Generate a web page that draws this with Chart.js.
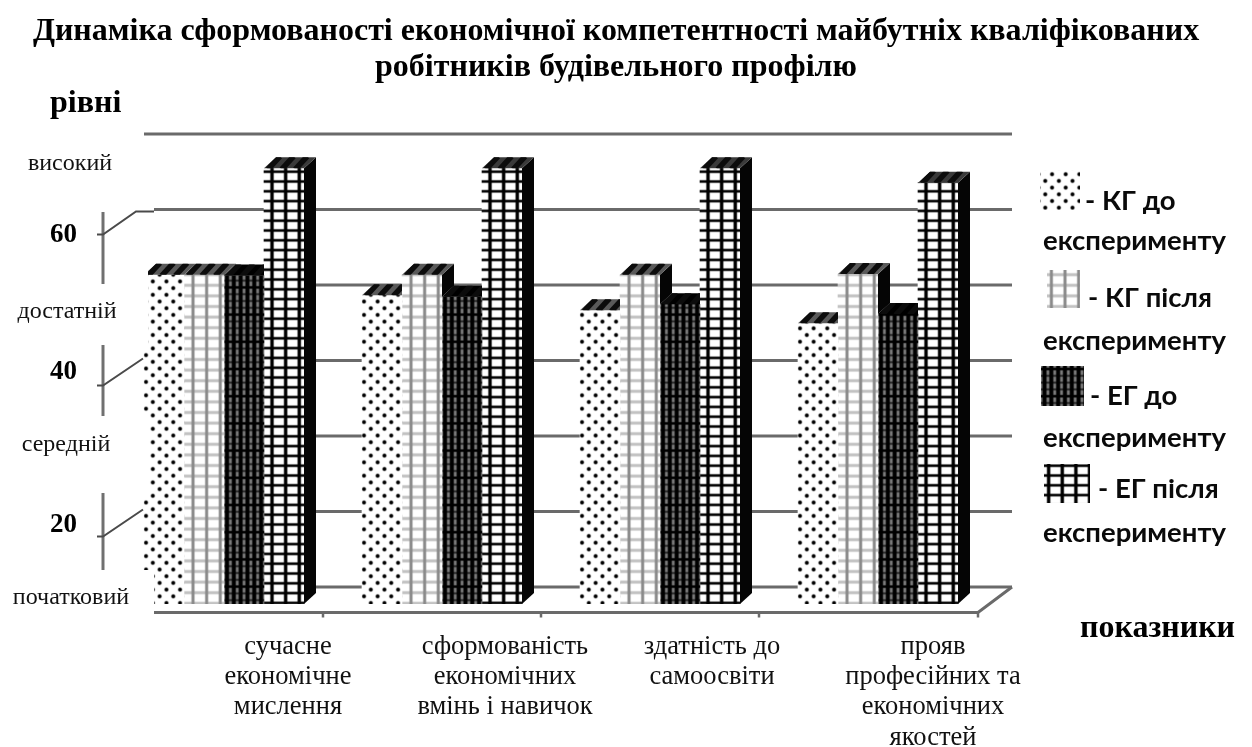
<!DOCTYPE html>
<html lang="uk">
<head>
<meta charset="utf-8">
<style>html,body{margin:0;padding:0;background:#fff}canvas{display:block}</style>
<script src="https://cdn.jsdelivr.net/npm/chart.js@4/dist/chart.umd.min.js"></script>
</head>
<body>
<canvas id="c" width="1252" height="747"></canvas>
<script>
const titleLines = ['Динаміка сформованості економічної компетентності майбутніх кваліфікованих','робітників будівельного профілю'];
const categories = [['сучасне','економічне','мислення'],['сформованість','економічних','вмінь і навичок'],['здатність до','самоосвіти'],['прояв','професійних та','економічних','якостей']];
const legendFirst = ['КГ до','КГ після','ЕГ до','ЕГ після'];
const legendSecond = 'експерименту';
const kgBefore = [53.6, 50.9, 48.9, 47.2];
const kgAfter  = [53.6, 53.6, 53.6, 53.7];
const egBefore = [53.5, 50.7, 49.7, 48.4];
const egAfter  = [67.7, 67.7, 67.7, 65.8];
const yTickValues = [20, 40, 60];
const gridValues = [10, 20, 30, 40, 50, 60, 70];
const levelLabels = ['високий','достатній','середній','початковий'];
const yAxisTitle = 'рівні';
const xAxisTitle = 'показники';

const SERIF = '"Liberation Serif", "Times New Roman", serif';
const DEPTH_Y = 17, CAP_DX = 12, CAP_DY = 11;
const ctxMain = document.getElementById('c').getContext('2d');

function tile(w, h, tx, ty, bg, draw) {
  const W = Math.round(w * 4), H = Math.round(h * 4);
  const cv = document.createElement('canvas'); cv.width = W; cv.height = H;
  const g = cv.getContext('2d');
  g.fillStyle = bg; g.fillRect(0, 0, W, H);
  g.filter = 'blur(2px)';
  g.scale(W / w, H / h);
  draw(g, w, h);
  const p = ctxMain.createPattern(cv, 'repeat');
  p.setTransform(new DOMMatrix().translate(tx, ty).scale(w / W, h / H));
  return p;
}
function vline(g, x, h, c, lw) { g.fillStyle = c; g.fillRect(x - lw / 2, -2, lw, h + 4); }
function hline(g, y, w, c, lw) { g.fillStyle = c; g.fillRect(-2, y - lw / 2, w + 4, lw); }

const dotsPattern = tile(13.625, 13.4, 142.6, 592.95, '#fff', (g, w, h) => {
  g.fillStyle = '#000';
  [[w * .25, h * .25], [w * .75, h * .75]].forEach(([x, y]) => { g.beginPath(); g.arc(x, y, 2, 0, 7); g.fill(); });
});
const lightPattern = tile(13.625, 10.6, 186.2, 598, '#fff', (g, w, h) => {
  hline(g, h / 2, w, '#c2c2c2', 3); vline(g, w / 2, h, '#8a8a8a', 3);
});
const darkPattern = tile(13.625, 27.2, 223.6, 590, '#7c7c7c', (g, w, h) => {
  [3.4, 10.2, 17, 23.8].forEach(y => hline(g, y, w, '#2a2a2a', 2));
  hline(g, 23.8, w, '#000', 2.2);
  vline(g, w * .25, h, '#000', 4); vline(g, w * .75, h, '#000', 4);
});
const afterPattern = tile(13.625, 9.8, 265.2, 598, '#fff', (g, w, h) => {
  hline(g, h / 2, w, '#000', 2.6); vline(g, w / 2, h, '#000', 3.4);
});
const seriesPatterns = [dotsPattern, lightPattern, darkPattern, afterPattern];
const seriesCaps = ['#5a5a5a', '#5a5a5a', '#000', '#3a3a3a'];

const xLabelShift = [64, 63, 52, 55];
const yLabelShift = {20: -3.5, 40: -5.5, 60: 8.5};

function shiftTicks(scale, shifts) {
  const base = Object.getPrototypeOf(scale).getPixelForTick;
  scale.getPixelForTick = i => base.call(scale, i) + shifts(i);
}

function line(c, pts, color, lw) {
  c.beginPath(); c.strokeStyle = color; c.lineWidth = lw;
  pts.forEach(([x, y], i) => i ? c.lineTo(x, y) : c.moveTo(x, y));
  c.stroke();
}
function text(c, s, x, y, font, align, color) {
  c.font = font; c.textAlign = align || 'left'; c.textBaseline = 'alphabetic'; c.fillStyle = color || '#000';
  c.fillText(s, x, y);
}

const wall = {
  id: 'wall',
  beforeDatasetsDraw(chart) {
    const c = chart.ctx, y = chart.scales.y;
    c.save();
    c.filter = 'blur(0.5px)';
    gridValues.forEach(v => {
      const py = y.getPixelForValue(v) - DEPTH_Y;
      line(c, [[v === 70 ? 144 : 154, py], [1012, py]], '#6a6a6a', 3);
    });
    const floorY = y.getPixelForValue(10) + 8.5, backY = y.getPixelForValue(10) - DEPTH_Y;
    line(c, [[154, floorY], [978, floorY], [1012, backY]], '#6a6a6a', 3);
    [323, 541, 759, 978].forEach(x => line(c, [[x, floorY], [x, floorY + 5]], '#6a6a6a', 2.5));
    c.restore();
  }
};

const bars3d = {
  id: 'bars3d',
  afterDatasetsDraw(chart) {
    const c = chart.ctx;
    const floor = chart.scales.y.bottom;
    const metas = chart.data.datasets.map((d, i) => chart.getDatasetMeta(i));
    metas.forEach((meta, si) => {
      meta.data.forEach((b, ci) => {
        const L = b.x - b.width / 2, R = b.x + b.width / 2, T = b.y;
        const next = metas[si + 1] ? metas[si + 1].data[ci] : null;
        const sideBottom = next ? next.y : floor;
        c.save();
        c.filter = 'blur(0.5px)';
        if (sideBottom > T) {
          c.fillStyle = '#050505';
          c.beginPath();
          c.moveTo(R, T); c.lineTo(R + CAP_DX, T - CAP_DY);
          c.lineTo(R + CAP_DX, sideBottom - CAP_DY); c.lineTo(R, sideBottom);
          c.closePath(); c.fill();
        }
        c.beginPath();
        if (next && next.y < T) c.rect(0, 0, R, 747); else c.rect(0, 0, 1252, 747);
        c.clip();
        c.beginPath();
        c.moveTo(L, T); c.lineTo(L + CAP_DX, T - CAP_DY); c.lineTo(R + CAP_DX, T - CAP_DY); c.lineTo(R, T);
        c.closePath();
        c.fillStyle = seriesCaps[si]; c.fill();
        c.clip();
        for (let k = 0; k < 4; k++) {
          const x0 = L + 4 + k * 13.6;
          line(c, [[x0, T + 1], [x0 + CAP_DX, T - CAP_DY - 1]], '#0c0c0c', 5.5);
        }
        c.restore();
      });
    });

    c.save();
    c.fillStyle = '#fff';
    [[0, 140, 154, 71], [0, 262, 148, 83], [0, 416, 149, 77], [0, 570, 154, 40]].forEach(r => c.fillRect(...r));
    c.filter = 'blur(0.4px)';
    const y = chart.scales.y;
    [[212, 284], [345, 416], [493, 570]].forEach(([a, b]) => line(c, [[103, a], [103, b]], '#707070', 3));
    yTickValues.forEach(v => {
      const back = y.getPixelForValue(v) - DEPTH_Y;
      const end = v === 60 ? [[136, back + 2], [154, back + 2]] : [[143, back - 2]];
      line(c, [[97, back + 25], [103, back + 25], ...end], '#4a4a4a', 2);
    });
    c.restore();

    const lv = '24px ' + SERIF;
    text(c, levelLabels[0], 70, 170, lv, 'center', '#111');
    text(c, levelLabels[1], 67, 318, lv, 'center', '#111');
    text(c, levelLabels[2], 66, 451, lv, 'center', '#111');
    text(c, levelLabels[3], 71, 604, lv, 'center', '#111');
    text(c, yAxisTitle, 50, 112, 'bold 32px ' + SERIF, 'left');
    text(c, xAxisTitle, 1080, 637, 'bold 32px ' + SERIF, 'left');

    const swatches = [[1040, 170, 40, 40], [1047, 270, 33, 38], [1041, 366, 43, 40], [1044, 464, 46, 39]];
    const firstX = [1085, 1088, 1090, 1098], firstY = [210, 307, 405, 498], secondY = [250, 350, 447, 542];
    const lg = 'bold 27.5px Lato, sans-serif';
    c.save();
    seriesPatterns.forEach((p, i) => {
      c.fillStyle = p; c.fillRect(...swatches[i]);
      c.filter = 'blur(0.6px)';
      text(c, '- ' + legendFirst[i], firstX[i], firstY[i], lg, 'left', '#0a0a0a');
      text(c, legendSecond, 1043, secondY[i], lg, 'left', '#0a0a0a');
      c.filter = 'none';
    });
    c.restore();
  }
};

const makeSet = (name, data, i) => ({
  label: name + ' ' + legendSecond, data, backgroundColor: seriesPatterns[i], borderWidth: 0,
  barThickness: 40
});

new Chart(ctxMain, {
  type: 'bar',
  data: {
    labels: categories,
    datasets: [makeSet(legendFirst[0], kgBefore, 0), makeSet(legendFirst[1], kgAfter, 1), makeSet(legendFirst[2], egBefore, 2), makeSet(legendFirst[3], egAfter, 3)]
  },
  plugins: [wall, bars3d],
  options: {
    responsive: false, animation: false, devicePixelRatio: 1,
    layout: {padding: {left: 0, right: 20, top: 0, bottom: 0}},
    plugins: {
      legend: {display: false},
      tooltip: {enabled: false},
      title: {
        display: true, text: titleLines, color: '#000',
        font: {family: SERIF, weight: 'bold', size: 32, lineHeight: 1.15},
        padding: {top: 13, bottom: 47.4}
      }
    },
    scales: {
      x: {
        grid: {display: false}, border: {display: false},
        afterBuildTicks: s => shiftTicks(s, i => xLabelShift[i]),
        afterFit: s => { s.height = 143; },
        ticks: {
          color: '#111', autoSkip: false, maxRotation: 0, minRotation: 0, padding: 20,
          font: {family: SERIF, size: 26.5, lineHeight: 1.14}
        }
      },
      y: {
        min: 10, max: 72.25,
        grid: {display: false}, border: {display: false},
        afterBuildTicks: s => {
          s.ticks = yTickValues.map(value => ({value}));
          shiftTicks(s, i => yLabelShift[s.ticks[i].value]);
        },
        afterFit: s => { s.width = 115; },
        ticks: {
          color: '#000', padding: 30,
          font: {family: SERIF, weight: 'bold', size: 27},
          callback: v => String(v)
        }
      },
      spacer: {
        position: 'right', grid: {display: false}, border: {display: false},
        ticks: {display: false},
        afterFit: s => { s.width = 245; }
      }
    }
  }
});
</script>
</body>
</html>
